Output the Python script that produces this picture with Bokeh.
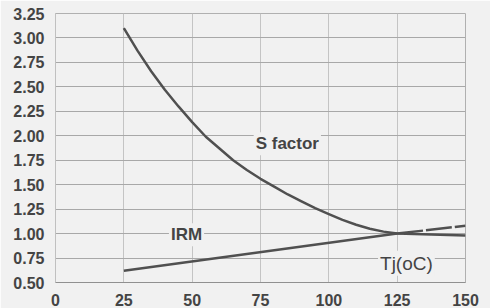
from bokeh.plotting import figure
from bokeh.models import FixedTicker, PrintfTickFormatter, Label, Range1d
from bokeh.embed import file_html
from bokeh.resources import INLINE

# Data
s_temp = [25, 30, 35, 40, 45, 50, 55, 60, 65, 70, 75, 80, 85, 90, 95, 100,
          105, 110, 115, 120, 125, 137.5, 150]
s_factor = [3.10, 2.87, 2.66, 2.47, 2.30, 2.14, 1.99, 1.87, 1.75, 1.65, 1.56,
            1.48, 1.40, 1.33, 1.26, 1.20, 1.14, 1.09, 1.05, 1.02, 1.00, 0.99, 0.98]
irm_temp = [25, 125]
irm = [0.62, 1.00]
irm_ext_temp = [125, 150]
irm_ext = [1.00, 1.08]

x_ticks = [0, 25, 50, 75, 100, 125, 150]
y_ticks = [0.50, 0.75, 1.00, 1.25, 1.50, 1.75, 2.00, 2.25, 2.50, 2.75, 3.00, 3.25]

BG = "#f1f1f1"
LINE = "#505050"
TXT = "#444444"

p = figure(width=490, height=308, output_backend="svg", toolbar_location=None,
           x_range=Range1d(0, 150), y_range=Range1d(0.5, 3.25),
           min_border_left=55, min_border_right=25, min_border_top=13,
           min_border_bottom=25)
p.background_fill_color = BG
p.border_fill_color = BG
p.outline_line_color = "#b0b0b0"
p.outline_line_width = 1

p.xaxis.ticker = FixedTicker(ticks=x_ticks)
p.yaxis.ticker = FixedTicker(ticks=y_ticks)
p.yaxis.formatter = PrintfTickFormatter(format="%.2f")
for ax in (p.xaxis, p.yaxis):
    ax.major_tick_line_color = None
    ax.minor_tick_line_color = None
    ax.major_label_text_font = "Liberation Sans"
    ax.major_label_text_font_style = "bold"
    ax.major_label_text_font_size = "16px"
    ax.major_label_text_color = TXT
p.xaxis.axis_line_color = "#909090"
p.yaxis.axis_line_color = "#c0c0c0"
p.xaxis.major_label_standoff = 5
p.yaxis.major_label_standoff = 5

p.xgrid.grid_line_color = "#c4c4c4"
p.ygrid.grid_line_color = "#a8a8a8"
p.xgrid.grid_line_width = 1
p.ygrid.grid_line_width = 1

p.line(s_temp, s_factor, line_color=LINE, line_width=2.5)
p.line(irm_temp, irm, line_color=LINE, line_width=2.5)
p.line(irm_ext_temp, irm_ext, line_color=LINE, line_width=2.5, line_dash="26 3")

for txt, x, y, bold, size in [("S factor", 72.5, 1.80, True, "17px"),
                              ("IRM", 41.5, 0.87, True, "17px"),
                              ("Tj(oC)", 118.0, 0.57, False, "19px")]:
    p.add_layout(Label(x=x, y=y, text=txt, text_font="Liberation Sans",
                       text_font_style="bold" if bold else "normal",
                       text_font_size=size, text_color=TXT,
                       background_fill_color=BG,
                       padding=2))

open("out.html", "w").write(file_html(p, INLINE))
